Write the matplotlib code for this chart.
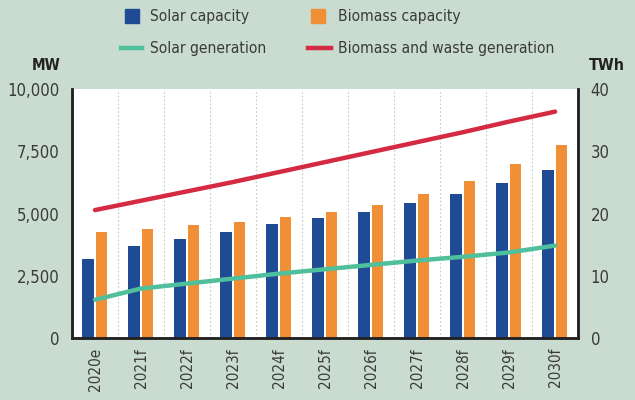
import matplotlib
matplotlib.use("Agg")
import matplotlib.pyplot as plt
import numpy as np
from matplotlib.lines import Line2D
from matplotlib.patches import Rectangle

years = ["2020e", "2021f", "2022f", "2023f", "2024f", "2025f", "2026f", "2027f", "2028f", "2029f", "2030f"]
solar_capacity = [3200, 3700, 4000, 4270, 4600, 4820, 5080, 5420, 5780, 6230, 6740]
biomass_capacity = [4250, 4380, 4540, 4690, 4870, 5080, 5350, 5780, 6310, 6980, 7780]
solar_generation = [6.2, 8.0, 8.8, 9.6, 10.4, 11.1, 11.8, 12.5, 13.1, 13.8, 14.9]
biomass_generation = [20.6, 22.1, 23.6, 25.1, 26.7, 28.3, 29.9, 31.5, 33.1, 34.8, 36.4]
left_ticks = [0, 2500, 5000, 7500, 10000]
right_ticks = [0, 10, 20, 30, 40]

BG = "#c9dccf"
BLUE = "#1f4b94"
ORANGE = "#f08f35"
GREEN = "#4fbf9c"
RED = "#d42a42"
TXT = "#3a3a3a"

plt.rcParams['font.family'] = ['DejaVu Sans']
plt.rcParams['font.stretch'] = 'condensed'

W, H = 635, 400
fig = plt.figure(figsize=(6.35, 4.0), dpi=100, facecolor=BG)
ax = fig.add_axes([0.1134, 0.154, 0.797, 0.623])
ax.set_facecolor("white")
x = np.arange(len(years))
w = 0.245
ax.bar(x - 0.155, solar_capacity, width=w, color=BLUE, zorder=2)
ax.bar(x + 0.145, biomass_capacity, width=w, color=ORANGE, zorder=2)
ax.set_xlim(-0.5, len(years) - 0.5)
ax.set_ylim(0, 10000)
ax.set_yticks(left_ticks)
ax.set_yticklabels([f"{v:,}" for v in left_ticks])
ax.set_xticks(x)
ax.set_xticklabels(years, rotation=90)
for g in np.arange(0.5, len(years) - 0.5, 1):
    ax.axvline(g, color="#c8c8c8", lw=0.8, ls=(0, (1.5, 2)), zorder=1)

ax2 = ax.twinx()
ax2.plot(x, biomass_generation, color=RED, lw=3.2, solid_capstyle="round", zorder=3)
ax2.plot(x, solar_generation, color=GREEN, lw=3.2, solid_capstyle="round", zorder=3)
ax2.set_ylim(0, 40)
ax2.set_yticks(right_ticks)

for a in (ax, ax2):
    a.spines["top"].set_visible(False)
    for s in ("left", "right", "bottom"):
        a.spines[s].set_linewidth(1.8)
        a.spines[s].set_color("#222222")
    a.tick_params(axis="y", length=0, labelsize=12, colors=TXT, pad=9)
ax.tick_params(axis="x", length=0, labelsize=11, colors=TXT, pad=7)

fig.text(0.095, 0.835, "MW", ha="right", va="center", fontsize=11, fontweight="bold", color="#222222")
fig.text(0.928, 0.835, "TWh", ha="left", va="center", fontsize=11.5, fontweight="bold", color="#222222")

def fx(px):
    return px / W

def fy(py):
    return 1 - py / H

# legend row 1 (patches)
for x0, col in [(125, BLUE), (311, ORANGE)]:
    fig.patches.append(Rectangle((fx(x0), fy(23)), fx(14), 14 / H, color=col,
                                 transform=fig.transFigure, figure=fig))
for x0, lab in [(150, "Solar capacity"), (338, "Biomass capacity")]:
    fig.text(fx(x0), fy(16), lab, ha="left", va="center", fontsize=11.2, color=TXT)

# legend row 2 (lines)
for x0, x1, col in [(121, 142, GREEN), (308, 331, RED)]:
    fig.add_artist(Line2D([fx(x0), fx(x1)], [fy(48), fy(48)], color=col, lw=3.2,
                          transform=fig.transFigure))
for x0, lab in [(150, "Solar generation"), (338, "Biomass and waste generation")]:
    fig.text(fx(x0), fy(48), lab, ha="left", va="center", fontsize=11.2, color=TXT)

fig.savefig("out.png", dpi=100, facecolor=BG)
